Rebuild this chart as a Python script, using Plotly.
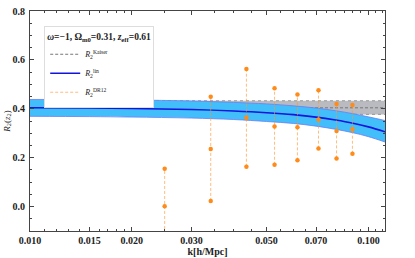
import plotly.graph_objects as go

# Linear-theory prediction
k_lin = [0.010, 0.015, 0.020, 0.030, 0.040, 0.050, 0.060, 0.070, 0.080, 0.090, 0.100, 0.112]
R_lin = [0.404, 0.403, 0.401, 0.397, 0.391, 0.384, 0.376, 0.366, 0.354, 0.341, 0.326, 0.306]
R_lin_hi = [0.438, 0.438, 0.436, 0.432, 0.426, 0.420, 0.412, 0.403, 0.392, 0.380, 0.367, 0.352]
R_lin_lo = [0.369, 0.368, 0.366, 0.362, 0.356, 0.348, 0.340, 0.329, 0.316, 0.302, 0.286, 0.264]

# Kaiser prediction (scale independent)
k_kaiser = [0.010, 0.112]
R_kaiser = [0.404, 0.404]
R_kaiser_hi = [0.433, 0.433]
R_kaiser_lo = [0.377, 0.377]

# DR12 measurements
k_dr12 = [0.0250, 0.0342, 0.0436, 0.0528, 0.0617, 0.0712, 0.0805, 0.0897]
R_dr12 = [0.001, 0.235, 0.363, 0.328, 0.324, 0.356, 0.309, 0.316]
R_dr12_hi = [0.155, 0.449, 0.563, 0.484, 0.458, 0.476, 0.420, 0.415]
R_dr12_lo = [-0.153, 0.023, 0.163, 0.171, 0.189, 0.237, 0.197, 0.216]

x_ticks = [0.010, 0.015, 0.020, 0.030, 0.050, 0.070, 0.100]
x_tick_labels = ["0.010", "0.015", "0.020", "0.030", "0.050", "0.070", "0.100"]
x_minor = [0.011, 0.012, 0.013, 0.014, 0.016, 0.017, 0.018, 0.019, 0.025, 0.035, 0.040, 0.045,
           0.055, 0.060, 0.065, 0.075, 0.080, 0.085, 0.090, 0.095, 0.105, 0.110]
y_ticks = [0.0, 0.2, 0.4, 0.6, 0.8]
y_tick_labels = ["0.0", "0.2", "0.4", "0.6", "0.8"]
y_minor = [-0.05, 0.05, 0.1, 0.15, 0.25, 0.3, 0.35, 0.45, 0.5, 0.55, 0.65, 0.7, 0.75]

ORANGE = "#FF8C1A"
GRAY_FILL = "rgba(185,187,192,1)"
BLUE_FILL = "rgba(66,190,250,1)"
FONT = "Liberation Serif"

fig = go.Figure()

# Kaiser band
fig.add_trace(go.Scatter(x=k_kaiser, y=R_kaiser_lo, mode="lines",
                         line=dict(color="#888888", width=0.8, dash="dot"),
                         showlegend=False, hoverinfo="skip"))
fig.add_trace(go.Scatter(x=k_kaiser, y=R_kaiser_hi, mode="lines", fill="tonexty",
                         fillcolor=GRAY_FILL,
                         line=dict(color="#888888", width=0.8, dash="dot"),
                         showlegend=False, hoverinfo="skip"))
fig.add_trace(go.Scatter(x=k_kaiser, y=R_kaiser, mode="lines",
                         line=dict(color="#777777", width=1, dash="3px,2px"),
                         name="<i>R</i><sub>2</sub><sup>Kaiser</sup>"))

# Linear band
fig.add_trace(go.Scatter(x=k_lin, y=R_lin_lo, mode="lines", line_shape="spline",
                         line=dict(color="#6a7cf5", width=0.8),
                         showlegend=False, hoverinfo="skip"))
fig.add_trace(go.Scatter(x=k_lin, y=R_lin_hi, mode="lines", line_shape="spline", fill="tonexty",
                         fillcolor=BLUE_FILL,
                         line=dict(color="#6a7cf5", width=0.8),
                         showlegend=False, hoverinfo="skip"))
fig.add_trace(go.Scatter(x=k_lin, y=R_lin, mode="lines", line_shape="spline",
                         line=dict(color="#1414DC", width=1.6),
                         name="<i>R</i><sub>2</sub><sup>lin</sup>"))

# DR12 dashed error lines
ex, ey = [], []
for k, lo, hi in zip(k_dr12, R_dr12_lo, R_dr12_hi):
    ex += [k, k, None]
    ey += [lo, hi, None]
fig.add_trace(go.Scatter(x=ex, y=ey, mode="lines",
                         line=dict(color="rgba(255,150,50,0.7)", width=0.9, dash="3px,2px"),
                         name="<i>R</i><sub>2</sub><sup>DR12</sup>"))
pts_x = k_dr12 * 3
pts_y = R_dr12 + R_dr12_hi + R_dr12_lo
fig.add_trace(go.Scatter(x=pts_x, y=pts_y, mode="markers",
                         marker=dict(color=ORANGE, size=4.5),
                         showlegend=False, hoverinfo="skip"))

axis_common = dict(showline=True, linecolor="#444444", linewidth=1, mirror="ticks",
                   ticks="inside", ticklen=4, tickcolor="#444444", showgrid=False,
                   zeroline=False, automargin=False, ticklabeloverflow="allow",
                   tickfont=dict(family=FONT, size=10, color="#222222"))

fig.update_xaxes(type="log", range=[-2, -0.951], tickmode="array", tickvals=x_ticks,
                 ticktext=["<b>" + t + "</b>" for t in x_tick_labels],
                 minor=dict(tickmode="array", tickvals=x_minor, ticks="inside", ticklen=2,
                            tickcolor="#444444"),
                 title=dict(text="<b>k[h/Mpc]</b>", font=dict(family=FONT, size=10, color="#222222"),
                            standoff=2),
                 **axis_common)
fig.update_yaxes(range=[-0.1, 0.8], tickmode="array", tickvals=y_ticks,
                 ticktext=["<b>" + t + "</b>" for t in y_tick_labels],
                 minor=dict(tickmode="array", tickvals=y_minor, ticks="inside", ticklen=2,
                            tickcolor="#444444"),
                 ticklabelstandoff=2,
                 title=dict(text="<i>R</i><sub>2</sub>(<i>z</i><sub>2</sub>)",
                            font=dict(family=FONT, size=9, color="#222222"), standoff=0),
                 **axis_common)

fig.update_layout(
    width=415, height=258,
    margin=dict(l=30, r=30, t=11, b=27),
    plot_bgcolor="white", paper_bgcolor="white",
    font=dict(family=FONT, size=10, color="#222222"),
    showlegend=True,
    legend=dict(x=0.04, y=0.93, xanchor="left", yanchor="top",
                bgcolor="white", bordercolor="#dddddd", borderwidth=1,
                traceorder="normal",
                font=dict(family=FONT, size=8, color="#222222"),
                title=dict(text="<b><i>ω</i>=−1, Ω<sub>m0</sub>=0.31, <i>z</i><sub>eff</sub>=0.61</b>",
                           font=dict(family=FONT, size=9.5, color="#222222")),
                itemwidth=30, tracegroupgap=0),
)

# remove the default 8px page margin so the figure sits at the window's top-left corner
fig.write_html("out.html", config={"displayModeBar": False},
               post_script="document.body.style.margin='0';")
